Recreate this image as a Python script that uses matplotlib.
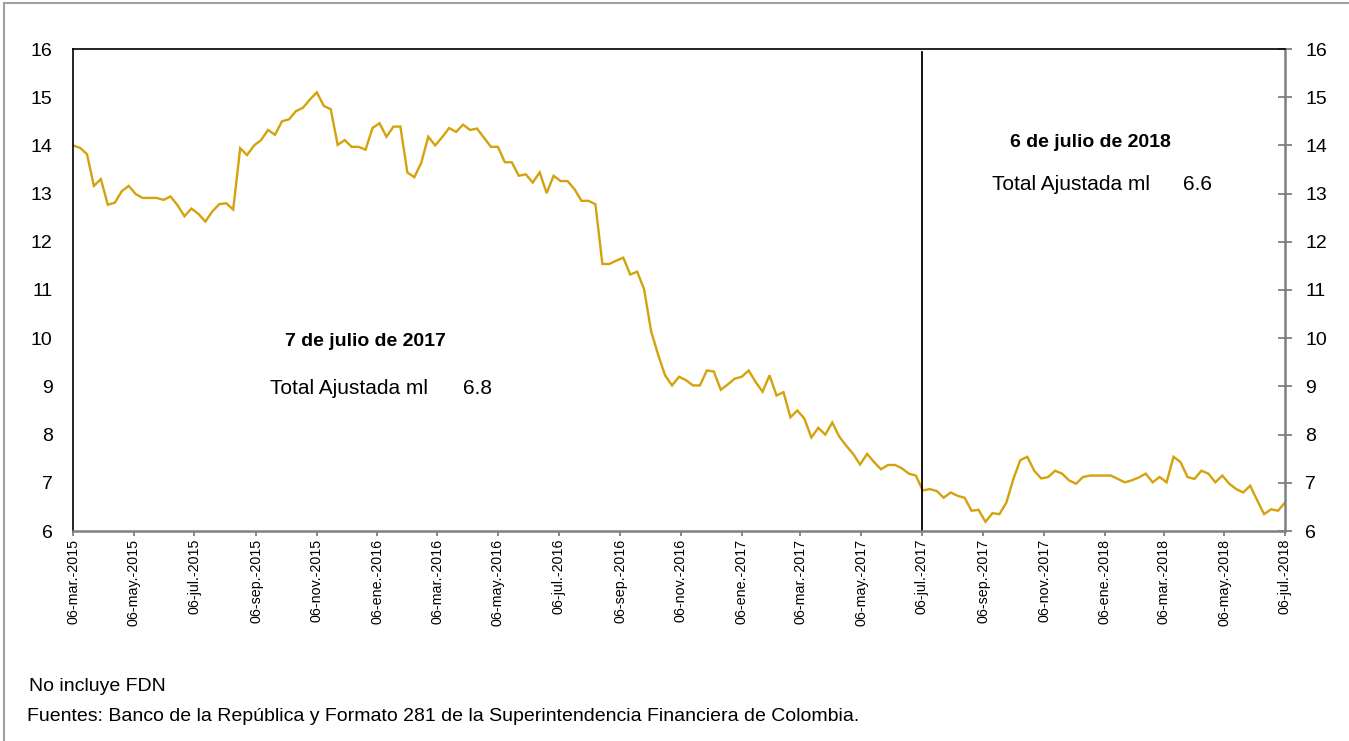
import matplotlib
matplotlib.use("Agg")
import matplotlib.pyplot as plt
import pandas as pd
from matplotlib.lines import Line2D

plt.rcParams['font.family'] = ['Liberation Sans', 'DejaVu Sans']

start_date = "2015-03-06"
values = [
    14.00, 13.95, 13.82, 13.16, 13.30, 12.77, 12.81, 13.05, 13.16, 12.99,
    12.91, 12.91, 12.91, 12.87, 12.94, 12.76, 12.53, 12.69, 12.58, 12.42,
    12.63, 12.78, 12.80, 12.67, 13.94, 13.80, 14.00, 14.11, 14.32, 14.22,
    14.50, 14.54, 14.71, 14.78, 14.95, 15.10, 14.82, 14.75, 14.01, 14.11,
    13.97, 13.97, 13.91, 14.36, 14.46, 14.18, 14.39, 14.39, 13.44, 13.34,
    13.64, 14.18, 14.00, 14.17, 14.36, 14.28, 14.43, 14.32, 14.35, 14.16,
    13.97, 13.97, 13.65, 13.65, 13.37, 13.40, 13.23, 13.44, 13.01, 13.37,
    13.26, 13.26, 13.09, 12.85, 12.85, 12.78, 11.54, 11.54, 11.61, 11.67,
    11.32, 11.38, 11.01, 10.14, 9.66, 9.23, 9.02, 9.20, 9.13, 9.02,
    9.02, 9.33, 9.31, 8.93, 9.04, 9.16, 9.20, 9.33, 9.09, 8.89,
    9.23, 8.81, 8.88, 8.36, 8.50, 8.33, 7.94, 8.14, 8.00, 8.25,
    7.96, 7.77, 7.60, 7.38, 7.60, 7.43, 7.28, 7.37, 7.37, 7.30,
    7.19, 7.15, 6.84, 6.87, 6.83, 6.69, 6.80, 6.73, 6.69, 6.42,
    6.44, 6.19, 6.37, 6.35, 6.59, 7.08, 7.47, 7.54, 7.25, 7.09,
    7.12, 7.25, 7.19, 7.05, 6.98, 7.12, 7.15, 7.15, 7.15, 7.15,
    7.08, 7.01, 7.05, 7.11, 7.19, 7.01, 7.12, 7.01, 7.54, 7.43,
    7.12, 7.08, 7.25, 7.19, 7.01, 7.15, 6.98, 6.87, 6.80, 6.94,
    6.64, 6.35, 6.45, 6.42, 6.59,
]
tick_dates = ["2015-03-06", "2015-05-06", "2015-07-06", "2015-09-06", "2015-11-06",
              "2016-01-06", "2016-03-06", "2016-05-06", "2016-07-06", "2016-09-06",
              "2016-11-06", "2017-01-06", "2017-03-06", "2017-05-06", "2017-07-06",
              "2017-09-06", "2017-11-06", "2018-01-06", "2018-03-06", "2018-05-06",
              "2018-07-06"]
tick_labels = ["06-mar.-2015", "06-may.-2015", "06-jul.-2015", "06-sep.-2015", "06-nov.-2015",
               "06-ene.-2016", "06-mar.-2016", "06-may.-2016", "06-jul.-2016", "06-sep.-2016",
               "06-nov.-2016", "06-ene.-2017", "06-mar.-2017", "06-may.-2017", "06-jul.-2017",
               "06-sep.-2017", "06-nov.-2017", "06-ene.-2018", "06-mar.-2018", "06-may.-2018",
               "06-jul.-2018"]
y_ticks = [6, 7, 8, 9, 10, 11, 12, 13, 14, 15, 16]
marker_date = "2017-07-06"
note1_title = "7 de julio de 2017"
note1_label = "Total Ajustada ml"
note1_value = "6.8"
note2_title = "6 de julio de 2018"
note2_label = "Total Ajustada ml"
note2_value = "6.6"

dates = pd.date_range(start_date, periods=len(values), freq="7D")

W, H = 1349, 741
fig = plt.figure(figsize=(W / 100, H / 100), dpi=100)
L, R, T, B = 73, 1285, 49, 531
ax = fig.add_axes([L / W, 1 - B / H, (R - L) / W, (B - T) / H])


def ax_xy(px, py):
    return (px - L) / (R - L), (B - py) / (B - T)


ax.plot(dates, values, color="#D4A20B", linewidth=1.7, solid_joinstyle="miter")
ax.axvline(pd.Timestamp(marker_date), ymin=0, ymax=0.994, color="black", linewidth=1.3)

ax.set_xlim(pd.Timestamp(start_date), dates[-1])
ax.set_ylim(6, 16)
ax.set_yticks(y_ticks)
ax.set_xticks([pd.Timestamp(d) for d in tick_dates])
ax.set_xticklabels(tick_labels, rotation=90, fontsize=10.3, va="top", ha="center")

ax.tick_params(axis="y", which="both", left=False, right=True, labelleft=True, labelright=True,
               direction="inout", length=9.5, width=1.3, color="#808080", labelsize=14, pad=10)
ax.tick_params(axis="x", direction="out", length=3.6, width=1.3, color="#808080", pad=2)

for s in ["left", "top"]:
    ax.spines[s].set_color("black")
    ax.spines[s].set_linewidth(1.2)
for s in ["right", "bottom"]:
    ax.spines[s].set_color("#808080")
    ax.spines[s].set_linewidth(1.8)

x, y = ax_xy(365, 341.7)
ax.text(x, y, note1_title, transform=ax.transAxes, fontsize=14, fontweight="bold",
        ha="center", va="center")
x, y = ax_xy(270, 388.3)
ax.text(x, y, note1_label, transform=ax.transAxes, fontsize=15, ha="left", va="center")
x, y = ax_xy(463, 388.3)
ax.text(x, y, note1_value, transform=ax.transAxes, fontsize=15, ha="left", va="center")

x, y = ax_xy(1090.5, 142.5)
ax.text(x, y, note2_title, transform=ax.transAxes, fontsize=14, fontweight="bold",
        ha="center", va="center")
x, y = ax_xy(991.7, 184)
ax.text(x, y, note2_label, transform=ax.transAxes, fontsize=15, ha="left", va="center")
x, y = ax_xy(1183, 184)
ax.text(x, y, note2_value, transform=ax.transAxes, fontsize=15, ha="left", va="center")

fig.text(29 / W, 1 - 691 / H, "No incluye FDN", fontsize=14, ha="left", va="baseline")
fig.text(27 / W, 1 - 721 / H,
         "Fuentes: Banco de la República y Formato 281 de la Superintendencia Financiera de Colombia.",
         fontsize=14, ha="left", va="baseline")

fig.add_artist(Line2D([4 / W, 1], [1 - 3 / H, 1 - 3 / H], transform=fig.transFigure,
                      color="#A0A0A0", linewidth=1.5))
fig.add_artist(Line2D([4 / W, 4 / W], [0, 1 - 3 / H], transform=fig.transFigure,
                      color="#A0A0A0", linewidth=1.5))

fig.savefig("out.png", dpi=100)
